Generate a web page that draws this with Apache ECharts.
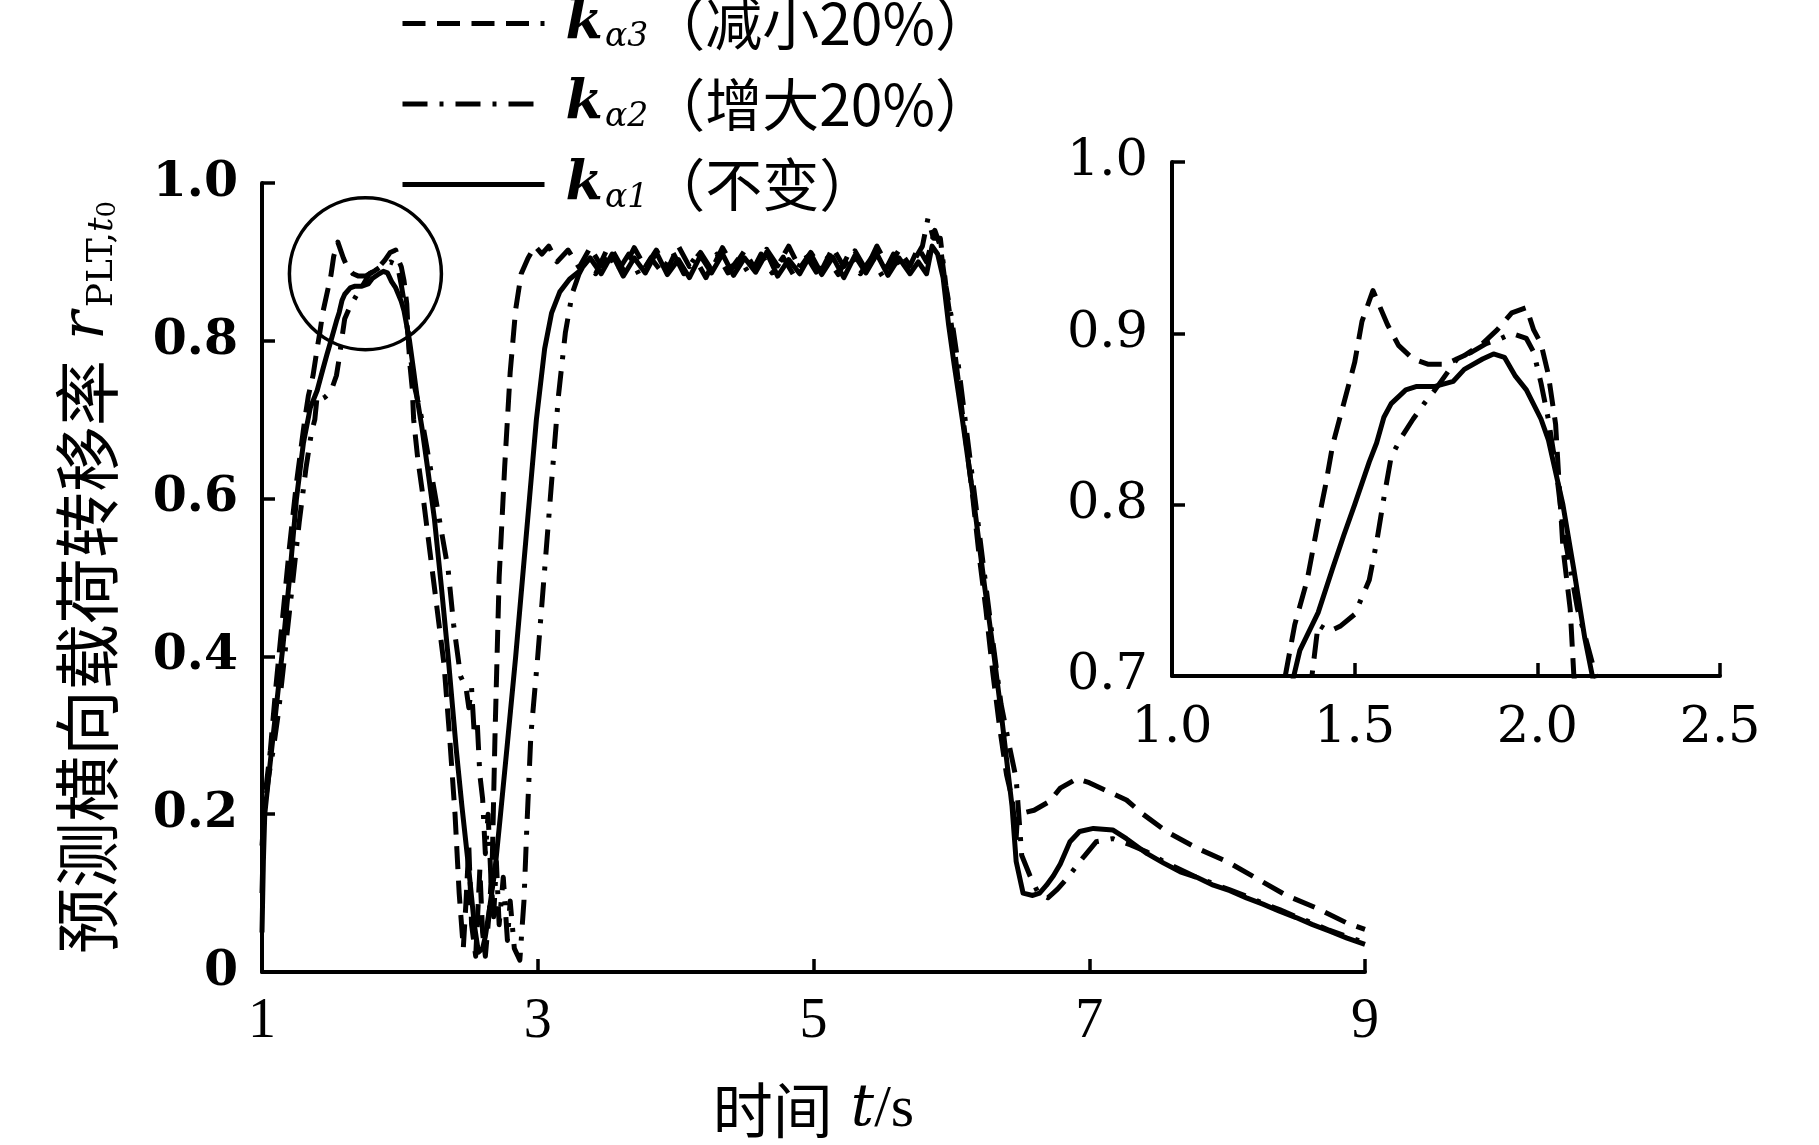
<!DOCTYPE html>
<html>
<head>
<meta charset="utf-8">
<script src="https://cdn.jsdelivr.net/npm/echarts/dist/echarts.min.js"></script>
<style>
html,body{margin:0;padding:0;background:#fff;}
#c{width:1819px;height:1145px;}
</style>
</head>
<body>
<div id="c"></div>
<script>
// ---- data (time t / s, predicted LTR) ----
const seriesNames = ['kα3（减小20%）', 'kα2（增大20%）', 'kα1（不变）'];

// k_alpha3 (decreased 20%) - dashed
const ka3 = [
[1.00,0.10],[1.01,0.17],[1.02,0.22],[1.06,0.28],[1.10,0.36],[1.15,0.45],[1.20,0.54],[1.25,0.62],
[1.31,0.70],[1.336,0.73],[1.37,0.756],[1.40,0.79],[1.42,0.811],[1.44,0.835],[1.47,0.859],[1.50,0.883],
[1.52,0.907],[1.55,0.925],[1.59,0.905],[1.62,0.893],[1.66,0.885],[1.70,0.882],[1.75,0.882],[1.80,0.887],
[1.85,0.894],[1.89,0.902],[1.93,0.912],[1.97,0.915],[1.99,0.902],[2.01,0.894],[2.03,0.876],[2.05,0.847],
[2.06,0.811],[2.07,0.775],[2.09,0.739],[2.10,0.70],[2.13,0.65],[2.17,0.60],[2.22,0.53],[2.27,0.46],
[2.32,0.39],[2.36,0.30],[2.40,0.20],[2.43,0.10],[2.46,0.03],[2.48,0.09],[2.50,0.16],[2.52,0.06],
[2.55,0.02],[2.58,0.13],[2.60,0.05],[2.62,0.02],[2.65,0.08],[2.67,0.14],[2.69,0.30],[2.72,0.50],
[2.76,0.64],[2.80,0.76],[2.84,0.84],[2.88,0.885],[2.93,0.905],[2.98,0.92],[3.03,0.91],[3.08,0.92],
[3.14,0.90],[3.22,0.915],[3.30,0.893],[3.38,0.918],[3.46,0.895],[3.54,0.915],[3.62,0.89],[3.70,0.918],
[3.78,0.893],[3.86,0.915],[3.94,0.89],[4.02,0.92],[4.10,0.894],[4.18,0.912],[4.26,0.89],[4.34,0.918],
[4.42,0.893],[4.50,0.914],[4.58,0.89],[4.66,0.916],[4.74,0.895],[4.82,0.92],[4.90,0.892],[4.98,0.912],
[5.06,0.89],[5.14,0.918],[5.22,0.894],[5.30,0.914],[5.38,0.89],[5.46,0.92],[5.54,0.893],[5.62,0.915],
[5.70,0.895],[5.76,0.918],[5.82,0.90],[5.88,0.94],[5.92,0.92],[5.95,0.88],[6.00,0.82],[6.05,0.75],
[6.10,0.68],[6.15,0.61],[6.20,0.53],[6.25,0.46],[6.30,0.38],[6.35,0.31],[6.40,0.25],[6.44,0.22],
[6.47,0.17],[6.48,0.20],[6.60,0.205],[6.71,0.216],[6.79,0.233],[6.91,0.245],[7.00,0.24],[7.17,0.226],
[7.27,0.218],[7.39,0.20],[7.56,0.178],[7.78,0.157],[8.00,0.14],[8.21,0.119],[8.43,0.097],[8.65,0.081],
[8.87,0.062],[9.00,0.054]
];

// k_alpha2 (increased 20%) - dash-dot
const ka2 = [
[1.00,0.16],[1.02,0.21],[1.05,0.25],[1.08,0.28],[1.12,0.33],[1.17,0.41],[1.22,0.49],[1.27,0.57],
[1.32,0.64],[1.36,0.685],[1.383,0.70],[1.40,0.73],[1.43,0.726],[1.46,0.729],[1.50,0.736],[1.54,0.756],
[1.56,0.778],[1.58,0.804],[1.60,0.828],[1.63,0.84],[1.66,0.85],[1.69,0.859],[1.72,0.867],[1.78,0.885],
[1.82,0.889],[1.86,0.894],[1.90,0.897],[1.93,0.90],[1.97,0.897],[1.99,0.889],[2.01,0.871],[2.03,0.85],
[2.05,0.823],[2.07,0.787],[2.09,0.763],[2.11,0.739],[2.14,0.716],[2.16,0.70],[2.20,0.66],[2.25,0.61],
[2.30,0.56],[2.35,0.51],[2.39,0.44],[2.44,0.375],[2.48,0.36],[2.50,0.335],[2.52,0.36],[2.54,0.30],
[2.56,0.32],[2.58,0.25],[2.60,0.22],[2.62,0.15],[2.64,0.20],[2.66,0.12],[2.68,0.07],[2.70,0.14],
[2.72,0.06],[2.75,0.12],[2.78,0.04],[2.80,0.09],[2.83,0.03],[2.87,0.015],[2.90,0.09],[2.92,0.18],
[2.95,0.30],[3.00,0.40],[3.05,0.51],[3.10,0.62],[3.15,0.73],[3.20,0.81],[3.25,0.86],[3.30,0.885],
[3.36,0.905],[3.42,0.885],[3.50,0.915],[3.58,0.888],[3.66,0.91],[3.74,0.882],[3.82,0.905],[3.90,0.887],
[3.98,0.912],[4.06,0.885],[4.14,0.905],[4.22,0.88],[4.30,0.91],[4.38,0.886],[4.46,0.905],[4.54,0.883],
[4.62,0.91],[4.70,0.886],[4.78,0.906],[4.86,0.882],[4.94,0.91],[5.02,0.887],[5.10,0.905],[5.18,0.884],
[5.26,0.912],[5.34,0.885],[5.42,0.905],[5.50,0.882],[5.58,0.91],[5.66,0.887],[5.74,0.905],[5.79,0.92],
[5.83,0.955],[5.87,0.93],[5.92,0.93],[5.96,0.87],[6.00,0.83],[6.05,0.77],[6.10,0.70],[6.15,0.63],
[6.20,0.56],[6.25,0.49],[6.30,0.42],[6.36,0.34],[6.42,0.287],[6.47,0.245],[6.51,0.148],[6.57,0.122],
[6.63,0.10],[6.70,0.094],[6.77,0.105],[6.84,0.119],[6.96,0.146],[7.05,0.165],[7.17,0.169],[7.30,0.161],
[7.42,0.152],[7.54,0.14],[7.66,0.13],[7.78,0.12],[7.90,0.112],[8.02,0.104],[8.14,0.096],[8.26,0.087],
[8.38,0.079],[8.50,0.07],[8.62,0.062],[8.74,0.053],[8.87,0.045],[9.00,0.037]
];

// k_alpha1 (unchanged) - solid
const ka1 = [
[1.00,0.05],[1.01,0.14],[1.02,0.20],[1.05,0.25],[1.10,0.33],[1.15,0.41],[1.20,0.50],[1.25,0.60],
[1.30,0.67],[1.35,0.715],[1.40,0.737],[1.44,0.763],[1.47,0.782],[1.50,0.80],[1.54,0.825],[1.56,0.836],
[1.58,0.851],[1.60,0.859],[1.64,0.867],[1.67,0.869],[1.72,0.869],[1.77,0.872],[1.80,0.879],[1.85,0.885],
[1.88,0.888],[1.91,0.886],[1.94,0.875],[1.97,0.867],[2.01,0.85],[2.03,0.838],[2.07,0.80],[2.10,0.762],
[2.13,0.722],[2.16,0.69],[2.20,0.64],[2.25,0.575],[2.30,0.49],[2.35,0.40],[2.41,0.28],[2.45,0.21],
[2.50,0.13],[2.54,0.06],[2.57,0.025],[2.60,0.03],[2.62,0.045],[2.65,0.08],[2.69,0.13],[2.73,0.20],
[2.78,0.29],[2.84,0.40],[2.90,0.52],[2.94,0.60],[2.99,0.70],[3.05,0.79],[3.10,0.835],[3.16,0.862],
[3.23,0.878],[3.30,0.888],[3.38,0.905],[3.46,0.885],[3.54,0.91],[3.62,0.882],[3.70,0.905],[3.78,0.886],
[3.86,0.912],[3.94,0.884],[4.02,0.903],[4.10,0.88],[4.18,0.908],[4.26,0.886],[4.34,0.91],[4.42,0.883],
[4.50,0.905],[4.58,0.887],[4.66,0.912],[4.74,0.882],[4.82,0.903],[4.90,0.885],[4.98,0.91],[5.06,0.884],
[5.14,0.906],[5.22,0.88],[5.30,0.908],[5.38,0.886],[5.46,0.91],[5.54,0.883],[5.62,0.905],[5.70,0.885],
[5.76,0.90],[5.82,0.885],[5.86,0.92],[5.90,0.91],[5.94,0.88],[5.98,0.82],[6.02,0.77],[6.08,0.70],
[6.16,0.60],[6.24,0.49],[6.31,0.40],[6.36,0.33],[6.40,0.27],[6.44,0.21],[6.47,0.14],[6.52,0.10],
[6.59,0.097],[6.64,0.10],[6.69,0.11],[6.74,0.122],[6.79,0.137],[6.86,0.165],[6.93,0.178],[7.03,0.182],
[7.17,0.18],[7.27,0.169],[7.42,0.15],[7.54,0.138],[7.66,0.127],[7.78,0.12],[7.90,0.11],[8.02,0.103],
[8.14,0.094],[8.26,0.086],[8.38,0.077],[8.50,0.069],[8.62,0.06],[8.74,0.052],[8.87,0.043],[9.00,0.035]
];

// axis ranges
const mainX = {min: 1, max: 9, interval: 2};
const mainY = {min: 0, max: 1, interval: 0.2};
const insetX = {min: 1.0, max: 2.5, interval: 0.5};
const insetY = {min: 0.7, max: 1.0, interval: 0.1};
// highlighted region (circle) centre in data coords
const circleCenter = [1.75, 0.885];

// ---- chart ----
const chart = echarts.init(document.getElementById('c'), null, {renderer: 'canvas'});
const BLACK = '#000';
const serif = 'DejaVu Serif';
const cjk = 'Noto Sans CJK SC';
const LW = 5;

const styles = {
  [seriesNames[0]]: {type: [23, 11.5]},
  [seriesNames[1]]: {type: [25, 12, 4, 12]},
  [seriesNames[2]]: {type: 'solid'}
};
const dataByName = {
  [seriesNames[0]]: ka3,
  [seriesNames[1]]: ka2,
  [seriesNames[2]]: ka1
};
const legendLabel = {
  [seriesNames[0]]: '{k|k}{s|α3}{c|（减小20%）}',
  [seriesNames[1]]: '{k|k}{s|α2}{c|（增大20%）}',
  [seriesNames[2]]: '{k|k}{s|α1}{c|（不变）}'
};

function axisCommon(cfg) {
  return Object.assign({
    type: 'value',
    axisLine: {show: true, onZero: false, lineStyle: {color: BLACK, width: 4}},
    axisTick: {show: true, inside: true, length: 13, lineStyle: {color: BLACK, width: 3.5}},
    splitLine: {show: false}
  }, cfg);
}

const series = [];
seriesNames.forEach(function (n) {
  [0, 1].forEach(function (g) {
    series.push({
      name: n,
      type: 'line',
      xAxisIndex: g,
      yAxisIndex: g,
      data: dataByName[n],
      symbol: 'none',
      showSymbol: false,
      clip: true,
      silent: true,
      itemStyle: {color: BLACK},
      lineStyle: {color: BLACK, width: LW, type: styles[n].type, cap: 'butt', join: 'round'}
    });
  });
});

chart.setOption({
  backgroundColor: '#fff',
  animation: false,
  legend: {
    orient: 'vertical',
    left: 400,
    top: -5,
    padding: 0,
    itemWidth: 142,
    itemHeight: 20,
    itemGap: 22,
    selectedMode: false,
    itemStyle: {opacity: 0},
    data: seriesNames.map(function (n) {
      return {name: n, itemStyle: {opacity: 0},
        lineStyle: {color: BLACK, width: 5, type: styles[n].type, cap: 'butt'}};
    }),
    formatter: function (n) { return legendLabel[n]; },
    textStyle: {
      color: BLACK,
      rich: {
        k: {fontFamily: serif, fontStyle: 'italic', fontWeight: 'bold', fontSize: 54, lineHeight: 60, padding: [0, 2, 0, 16], color: BLACK},
        s: {fontFamily: serif, fontStyle: 'italic', fontSize: 33, lineHeight: 34, verticalAlign: 'bottom', color: BLACK},
        c: {fontFamily: cjk, fontSize: 57, lineHeight: 60, color: BLACK}
      }
    }
  },
  grid: [
    {left: 262, top: 183, width: 1103, height: 791},
    {left: 1172, top: 162, width: 548, height: 514}
  ],
  xAxis: [
    axisCommon({
      gridIndex: 0, min: mainX.min, max: mainX.max, interval: mainX.interval,
      axisLabel: {color: BLACK, fontFamily: 'Liberation Serif', fontSize: 56, margin: 22},
      name: '{zh|时间}{t|t}{n|/s}',
      nameLocation: 'middle',
      nameGap: 106,
      nameTextStyle: {
        rich: {
          zh: {fontFamily: cjk, fontSize: 60, lineHeight: 64, color: BLACK},
          t: {fontFamily: serif, fontStyle: 'italic', fontSize: 58, lineHeight: 64, padding: [0, 0, 0, 18], color: BLACK},
          n: {fontFamily: 'Liberation Serif', fontSize: 60, lineHeight: 64, color: BLACK}
        }
      }
    }),
    axisCommon({
      gridIndex: 1, min: insetX.min, max: insetX.max, interval: insetX.interval,
      axisLabel: {color: BLACK, fontFamily: serif, fontSize: 51, margin: 27,
        formatter: function (v) { return v.toFixed(1); }}
    })
  ],
  yAxis: [
    axisCommon({
      gridIndex: 0, min: mainY.min, max: mainY.max, interval: mainY.interval,
      axisLabel: {color: BLACK, fontFamily: serif, fontWeight: 'bold', fontSize: 49, margin: 24,
        formatter: function (v) { return v === 0 ? '0' : v.toFixed(1); }},
      name: '{zh|预测横向载荷转移率}{r|r}{sb|PLT,}{st|t}{s0|0}',
      nameLocation: 'middle',
      nameRotate: 90,
      nameGap: 141,
      nameTextStyle: {
        rich: {
          zh: {fontFamily: cjk, fontSize: 66, lineHeight: 68, color: BLACK},
          r: {fontFamily: serif, fontStyle: 'italic', fontSize: 60, lineHeight: 68, padding: [0, 4, 0, 20], color: BLACK},
          sb: {fontFamily: serif, fontSize: 36, lineHeight: 42, verticalAlign: 'bottom', color: BLACK},
          st: {fontFamily: serif, fontStyle: 'italic', fontSize: 36, lineHeight: 42, verticalAlign: 'bottom', color: BLACK},
          s0: {fontFamily: serif, fontSize: 26, lineHeight: 28, verticalAlign: 'bottom', color: BLACK}
        }
      }
    }),
    axisCommon({
      gridIndex: 1, min: insetY.min, max: insetY.max, interval: insetY.interval,
      axisLabel: {color: BLACK, fontFamily: serif, fontSize: 51, margin: 24,
        formatter: function (v) { return v.toFixed(1); }}
    })
  ],
  series: series
});

// circle marking the region enlarged in the inset
const cp = chart.convertToPixel({xAxisIndex: 0, yAxisIndex: 0}, circleCenter);
chart.setOption({
  graphic: [{
    type: 'circle',
    silent: true,
    shape: {cx: cp[0], cy: cp[1], r: 76},
    style: {fill: 'none', stroke: BLACK, lineWidth: 3.5}
  }]
});
</script>
</body>
</html>
